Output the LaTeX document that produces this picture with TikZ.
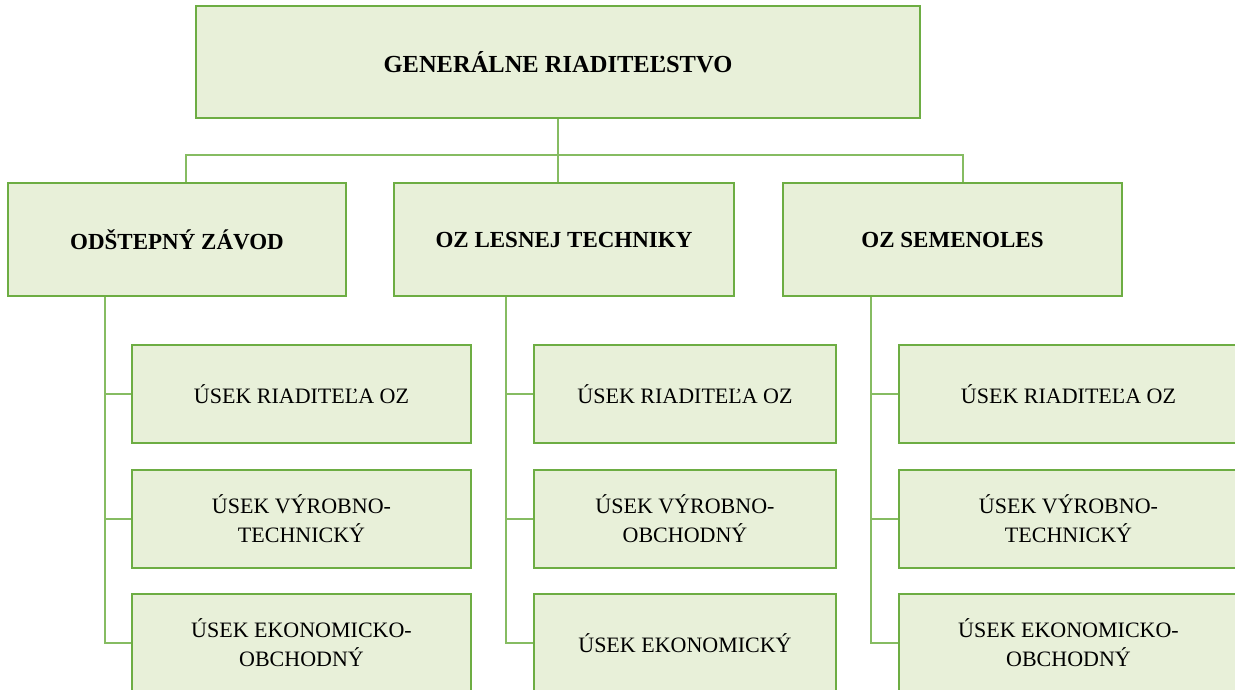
\documentclass[tikz,border=0pt]{standalone}
\usepackage{fontspec}
\setmainfont{Liberation Serif}
\usetikzlibrary{calc}
\definecolor{boxfill}{HTML}{E8F0D9}
\definecolor{boxline}{HTML}{6DAD43}
\definecolor{connline}{HTML}{86BC62}
\tikzset{
  orgbox/.style={draw=boxline, fill=boxfill, line width=1.8pt, rectangle, inner sep=2pt, align=center, text=black},
  topbox/.style={orgbox, minimum width=724pt, minimum height=112pt, font=\fontsize{24.5}{29}\selectfont\bfseries},
  midbox/.style={orgbox, minimum height=113pt, font=\fontsize{23}{29}\selectfont\bfseries},
  subbox/.style={orgbox, minimum height=98pt, font=\fontsize{22}{29}\selectfont},
  conn/.style={draw=connline, line width=1.8pt}
}
\begin{document}
\begin{tikzpicture}[x=1pt, y=-1pt]
\clip (0,0) rectangle (1235,689);
\fill[white] (0,0) rectangle (1235,689);
% top
\node[topbox] (top) at (558,62) {GENERÁLNE RIADITEĽSTVO};
% middle level
\node[midbox, minimum width=338pt] (m1) at (177,239.5) {ODŠTEPNÝ ZÁVOD};
\node[midbox, minimum width=340pt] (m2) at (564,239.5) {OZ LESNEJ TECHNIKY};
\node[midbox, minimum width=339pt] (m3) at (952.5,239.5) {OZ SEMENOLES};
% column 1
\node[subbox, minimum width=339pt] (c11) at (301.5,394) {ÚSEK RIADITEĽA OZ};
\node[subbox, minimum width=339pt] (c12) at (301.5,519) {ÚSEK VÝROBNO-\\TECHNICKÝ};
\node[subbox, minimum width=339pt] (c13) at (301.5,643) {ÚSEK EKONOMICKO-\\OBCHODNÝ};
% column 2
\node[subbox, minimum width=302pt] (c21) at (685,394) {ÚSEK RIADITEĽA OZ};
\node[subbox, minimum width=302pt] (c22) at (685,519) {ÚSEK VÝROBNO-\\OBCHODNÝ};
\node[subbox, minimum width=302pt] (c23) at (685,643) {ÚSEK EKONOMICKÝ};
% column 3
\node[subbox, minimum width=339pt] (c31) at (1068.5,394) {ÚSEK RIADITEĽA OZ};
\node[subbox, minimum width=339pt] (c32) at (1068.5,519) {ÚSEK VÝROBNO-\\TECHNICKÝ};
\node[subbox, minimum width=339pt] (c33) at (1068.5,643) {ÚSEK EKONOMICKO-\\OBCHODNÝ};
% connectors top level
\coordinate (j1) at (186,155);
\coordinate (j3) at (963,155);
\draw[conn] (top.south) -- (top.south |- m2.north);
\draw[conn] (j1 |- m1.north) -- (j1) -- (j3) -- (j3 |- m3.north);
% connectors columns
\coordinate (v1) at (105,0);
\coordinate (v2) at (506,0);
\coordinate (v3) at (871,0);
\draw[conn] (v1 |- m1.south) -- (v1 |- c13.west) -- (c13.west);
\draw[conn] (v1 |- c11.west) -- (c11.west);
\draw[conn] (v1 |- c12.west) -- (c12.west);
\draw[conn] (v2 |- m2.south) -- (v2 |- c23.west) -- (c23.west);
\draw[conn] (v2 |- c21.west) -- (c21.west);
\draw[conn] (v2 |- c22.west) -- (c22.west);
\draw[conn] (v3 |- m3.south) -- (v3 |- c33.west) -- (c33.west);
\draw[conn] (v3 |- c31.west) -- (c31.west);
\draw[conn] (v3 |- c32.west) -- (c32.west);
\end{tikzpicture}
\end{document}
